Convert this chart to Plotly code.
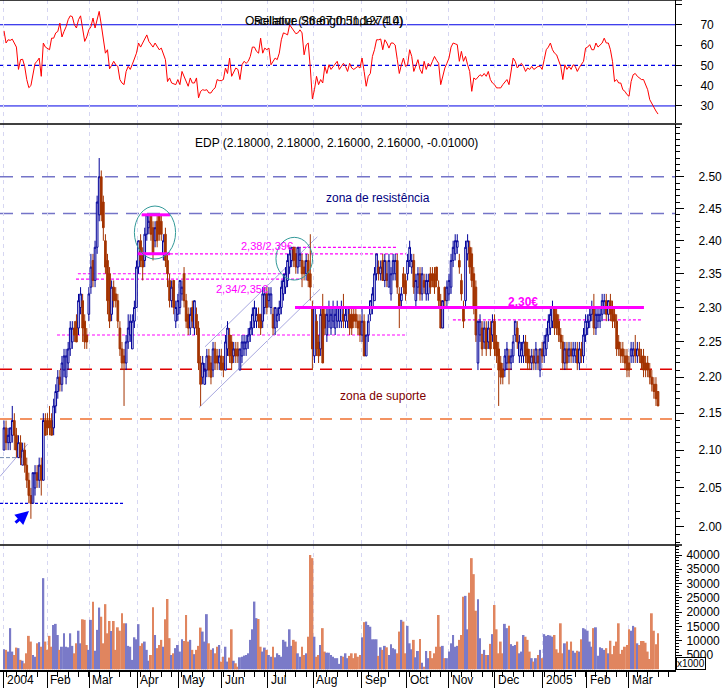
import numpy as np
import plotly.graph_objects as go

# ---------------- data ----------------
month_labels = ["2004", "Feb", "Mar", "Apr", "May", "Jun", "Jul", "Aug",
                "Sep", "Oct", "Nov", "Dec", "2005", "Feb", "Mar"]
# trading-day index where each month starts
month_pos = [0, 20.8, 41.1, 64.3, 84.5, 105.3, 127.5, 149.3,
             172.9, 194.7, 215.0, 237.2, 260.4, 281.6, 301.9]

# daily prices in euro cents
open_c = [
    210,213,211,211,212,214,212,209,211,208,210,208,206,204,203,205,207,206,208,206,214,           # Jan 04
    214,214,214,213,216,218,220,219,221,220,222,224,225,227,228,227,230,231,228,226,               # Feb
    229,233,237,234,239,244,250,246,240,237,235,229,233,232,231,227,224,223,222,225,226,224,228,   # Mar
    230,236,240,238,237,241,242,244,242,240,243,244,243,238,241,237,234,231,234,228,229,230,       # Apr
    232,235,231,229,227,230,227,229,227,222,220,219,221,223,222,221,224,223,222,223,222,           # May
    221,224,226,225,223,224,224,221,223,224,224,225,226,227,228,228,229,229,228,230,232,231,       # Jun
    230,229,227,228,229,230,232,233,234,236,237,239,238,236,237,237,236,235,237,235,230,223,       # Jul
    228,225,224,230,229,226,228,227,228,227,228,228,228,229,228,228,229,229,229,229,228,228,       # Aug
    226,228,223,226,229,230,231,235,236,235,237,234,235,233,232,235,235,237,232,231,235,234,       # Sep
    235,237,236,237,231,233,235,232,234,232,232,235,235,235,236,233,231,227,233,231,232,           # Oct
    233,237,238,239,237,234,230,231,238,239,238,235,233,222,226,227,225,227,225,227,226,228,       # Nov
    225,224,222,221,221,222,223,222,223,226,227,223,223,223,225,224,223,222,223,222,223,221,224,   # Dec
    223,224,226,227,228,230,229,228,226,225,222,224,223,224,223,223,224,222,224,223,226,           # Jan 05
    227,228,229,230,227,228,228,229,230,231,229,231,230,229,228,225,224,224,223,223,               # Feb
    222,223,223,224,223,224,223,223,222,222,221,220,219,219,218,                                   # Mar
]
high_c = [
    214,214,213,213,216,215,213,212,212,211,211,209,207,205,207,208,208,209,209,215,215,
    215,216,215,217,219,221,221,223,224,224,225,228,228,228,229,232,233,232,229,227,
    233,238,238,240,247,253,251,247,241,238,236,234,234,233,232,228,225,224,226,229,229,229,231,
    237,240,241,239,242,244,244,244,243,243,244,244,244,241,242,238,235,234,234,231,232,234,
    234,236,232,230,230,231,231,230,228,223,223,222,224,224,223,225,225,224,224,224,223,
    226,228,227,226,225,225,225,224,226,226,226,227,228,230,231,230,230,229,233,233,233,233,
    233,230,230,230,231,234,235,236,238,239,239,239,239,239,239,238,237,238,238,241,231,230,
    229,226,230,232,230,230,231,230,231,230,231,230,231,232,230,230,230,230,230,230,229,229,
    230,229,226,229,231,233,236,238,237,237,238,238,237,238,236,238,238,238,233,233,236,235,
    238,240,238,238,235,236,236,236,235,235,235,236,236,236,236,234,232,231,233,234,235,
    238,240,241,241,238,235,231,240,241,240,239,236,234,228,229,228,228,228,228,228,229,229,
    226,225,223,222,224,225,224,224,226,228,228,226,225,226,226,225,224,224,224,225,224,224,225,
    226,227,229,230,231,230,230,229,227,226,225,225,225,225,225,225,225,225,225,227,229,
    229,230,231,232,230,230,230,232,232,232,231,232,231,230,229,226,225,225,224,224,
    223,225,225,226,225,225,224,224,223,223,222,221,220,220,218,
]
low_c = [
    210,210,210,210,211,210,209,209,208,208,207,205,203,201,203,204,205,205,204,206,212,
    212,212,212,212,215,217,218,218,220,219,221,223,224,225,225,226,229,225,224,224,
    228,232,233,233,238,243,243,240,235,229,227,228,230,230,227,223,221,216,221,224,225,224,227,
    230,235,236,234,236,240,241,240,237,239,239,240,240,237,236,233,230,230,229,227,228,229,
    231,230,227,226,226,227,226,226,221,216,219,219,220,220,219,220,221,221,221,221,220,
    221,223,222,221,222,222,222,221,222,223,223,224,225,226,227,227,227,226,227,229,229,230,
    229,226,226,227,228,229,231,232,233,235,236,236,235,235,236,233,234,234,233,231,221,222,
    223,222,223,222,226,225,227,226,227,226,227,227,227,227,227,227,226,226,227,227,226,225,
    225,223,223,225,228,229,231,234,234,234,234,233,233,233,231,234,234,232,227,230,232,231,
    234,236,235,232,230,232,231,231,232,231,231,232,233,232,233,230,227,227,230,230,231,
    232,236,237,238,235,231,227,230,237,235,233,229,225,221,225,223,224,223,224,223,225,223,
    222,216,219,219,220,221,219,221,222,225,224,222,222,222,222,221,221,221,221,221,221,220,222,
    222,223,225,226,227,226,226,225,224,221,221,221,222,222,222,222,221,221,222,222,225,
    226,227,228,226,226,227,227,228,229,228,228,228,227,227,223,223,222,222,221,220,
    220,222,222,222,222,222,221,220,220,220,219,218,217,216,216,
]
close_c = [
    213,211,212,213,214,212,210,211,209,210,208,206,204,203,207,207,206,208,206,214,212,
    213,213,212,216,218,220,219,222,223,223,224,227,227,226,225,231,232,227,225,225,
    232,236,234,239,246,250,244,242,236,231,228,233,231,231,228,224,222,222,225,227,228,228,230,
    236,240,237,236,241,244,243,241,238,242,240,241,241,240,237,235,231,233,230,230,231,234,
    233,231,228,227,229,228,231,227,222,219,222,221,223,221,220,224,222,222,223,221,221,
    225,227,223,222,224,223,223,224,225,225,225,226,227,229,230,229,228,227,232,232,230,232,
    232,227,230,229,230,233,234,235,237,238,239,237,236,239,238,235,235,237,234,233,224,230,
    224,223,229,222,227,229,230,229,230,229,230,230,230,228,229,230,227,227,228,228,227,226,
    228,223,226,228,231,232,235,238,235,236,234,237,234,237,235,237,237,233,230,232,233,232,
    237,239,237,233,234,235,232,235,233,234,234,233,234,233,234,231,227,231,231,233,234,
    237,239,240,240,236,232,228,239,240,236,234,230,226,228,228,224,227,224,227,224,228,224,
    223,221,220,220,223,224,222,223,225,228,225,225,224,225,223,222,222,223,222,224,222,224,223,
    225,226,228,229,230,227,227,226,225,222,224,222,224,223,224,224,222,224,223,226,228,
    228,229,230,227,229,229,229,231,231,229,231,229,228,228,224,224,223,223,222,221,
    221,224,224,223,224,223,222,221,221,221,220,219,218,217,216,
]
# daily volume, in thousands of axis units (axis is x1000)
volume_k = [
    7.0,6.8,6.2,14.4,6.2,5.0,7.6,7.4,3.3,3.0,2.1,5.6,11.7,9.7,5.0,4.4,9.1,9.5,7.9,31.9,9.7,
    6.8,11.7,7.9,15.5,15.9,12.0,6.8,7.9,12.6,7.9,7.7,12.6,8.2,5.6,9.1,13.5,9.1,17.5,17.3,8.5,
    6.8,17.3,23.6,6.5,13.8,21.6,18.4,9.1,22.8,12.6,16.9,13.4,16.9,6.8,14.7,13.5,19.6,16.1,16.1,8.2,7.9,3.3,11.2,
    10.5,15.8,8.2,9.1,9.7,6.8,3.0,5.0,21.7,12.0,7.4,8.5,10.3,7.9,17.5,24.6,10.9,5.0,5.6,7.4,8.5,6.2,
    10.5,9.9,19.0,9.7,10.3,6.8,5.3,6.8,8.2,14.6,13.2,9.7,19.3,9.1,6.8,7.4,5.6,7.9,8.5,2.7,4.4,
    7.9,2.7,4.1,14.0,3.0,2.1,0.9,4.2,4.4,4.8,5.0,5.6,10.3,14.0,23.7,17.9,17.6,7.9,6.2,7.6,6.8,5.0,
    4.4,7.9,4.2,5.6,5.0,4.4,10.3,9.7,7.9,14.0,8.2,10.3,9.7,5.6,4.4,7.9,5.0,5.6,11.4,40.0,38.9,11.4,
    4.4,5.0,8.5,14.4,6.2,5.8,5.8,5.0,4.4,3.9,3.9,1.9,4.7,4.4,5.6,3.9,4.7,5.6,3.9,5.6,4.4,5.0,
    11.2,16.5,16.7,15.5,14.9,10.5,10.5,10.5,4.7,7.7,6.8,8.2,7.7,5.0,8.8,7.4,7.0,5.6,13.2,17.3,16.7,5.6,
    15.2,9.1,7.0,10.3,4.2,6.4,10.6,2.3,0.9,6.4,3.9,6.4,3.9,5.6,7.9,19.0,7.9,8.2,3.9,3.9,6.2,
    9.1,12.0,7.9,8.2,10.3,12.0,25.4,25.7,14.0,26.8,38.9,33.3,20.5,24.5,10.9,5.4,6.8,5.0,5.0,8.9,12.3,22.5,
    14.0,5.6,9.7,5.6,15.9,14.4,15.2,8.8,8.2,8.5,9.7,5.6,6.2,12.0,11.4,10.3,6.2,3.9,2.7,3.9,5.0,6.8,3.9,
    12.3,11.7,12.0,11.8,11.4,12.0,7.0,5.8,16.1,5.6,9.1,9.7,6.8,9.7,6.5,5.8,6.5,6.2,10.5,14.4,14.0,
    13.5,9.7,7.9,14.4,14.7,4.7,7.7,7.4,6.8,7.4,5.6,10.0,5.3,8.2,9.7,16.1,5.4,6.8,7.9,8.5,
    14.0,13.5,15.2,14.7,9.1,8.5,9.9,9.9,9.3,6.2,3.6,19.6,13.5,8.8,12.6,
]
rsi = [
    67,61,62.6,62.3,62.9,60.8,59,48,52.8,53,49.5,43,39,40,46,51,52,53.6,44.6,61,59,
    58.5,57.7,63.4,63.4,66,66.7,70.8,64,66.7,69,72.5,74.4,74,70,68.4,72.5,74.4,67.5,61.8,64,
    67.5,69,73.3,68.4,72.5,76.6,70,62,56,57.7,48.3,50,52,50.3,49.5,43,41.3,40.5,47,49.5,48,50.5,52.8,
    56,61,59,61,63.4,65,61.8,60.5,59,61,59,57.7,58.5,56,52.8,42,43.8,41.3,40.9,40.5,43,40.5,
    47,44.6,42,39.7,43.8,41.3,41.3,43.8,34,37.2,38,37.7,38,36.4,36.4,38,38.9,43,42.5,42.5,43,
    48.7,46,53.6,44.6,47,48.7,48,43,50.3,52,51,52,54.4,59,59,56.9,56,63.4,56,58.5,57.7,58.5,
    50.3,52,53.6,52.8,56,62.6,66,65.6,65,70,68.5,67.5,65.6,66,67.5,66,55.2,60,61,48.7,33.5,38,
    44.6,40.5,43,41.3,49.5,46,50.3,48,49.5,50.5,52,48,49.5,51,49.5,47,51,48.7,48,49,49.5,48.7,
    53.6,47,39.7,44.6,46,54.4,57.7,62.6,62.6,63,57.7,62.6,61,58.5,61,61,60,53,46,50.3,53.6,49.5,
    50.3,57.7,54.4,47,50,52.8,48,46,52,48,51,49.5,52,54.4,52.5,51,40.5,44.6,48.7,51,53.6,
    59,61,60.6,60.2,52,56.9,52,54.4,50.3,47,37.2,43.8,43,44,45.4,44.6,46,44.6,47,43,41.3,40.5,
    38.9,38.9,38.9,40.5,42,43,40.5,47,53.6,52,48.7,50,51,49.5,47,48.7,48,49.5,48,48.7,49.5,49.5,48,
    52.8,57.7,59,61,57.7,56,55.2,52,49.5,43,50.3,48,49.5,48,50.3,49.5,47,49,50.3,52,58.5,
    59,60.2,57.7,57.7,61,59,60,61,63.4,61,61,57.7,52,42,43,41.3,41.3,38,37.2,35.6,
    34.8,42,45.4,46,44.6,44,43,43,40.5,38,33.1,31,29,27.5,26,
]

price_ticks = [2.00, 2.05, 2.10, 2.15, 2.20, 2.25, 2.30, 2.35, 2.40, 2.45, 2.50]
rsi_ticks = [30, 40, 50, 60, 70, 80]
rsi_labels = ["30", "40", "50", "60", "70", ""]
vol_ticks = [5, 10, 15, 20, 25, 30, 35, 40]
vol_labels = ["5000", "10000", "15000", "20000", "25000", "30000", "35000", "40000"]

# annotation levels (price) drawn on the chart
resistance_levels = [2.50, 2.442]
support_red = 2.211
support_orange = 2.142
magenta_solid = [(2.30, 140.6, 309.2), (2.44, 66.5, 80.2), (2.38, 64.6, 80.2)]
magenta_dotted = [(2.38, 80.2, 194.2), (2.39, 139.6, 190.3), (2.35, 35.7, 138.2),
                  (2.342, 34.8, 144.0), (2.26, 25.6, 194.2), (2.282, 216.9, 308.7)]
blue_dotted = (2.03, -1.93, 58.0)
grey_short = (2.09, -1.93, 7.7)
channel_lines = [((94.3, 2.158), (152.7, 2.327)), ((97.1, 2.243), (151.4, 2.406)),
                 ((-1.93, 2.065), (11.4, 2.108))]
circles = [((63.0, 82.9), (2.3722, 2.4537)), ((131.4, 149.1), (2.3406, 2.4052))]

# ---------------- figure ----------------
W, H = 723, 688
PLOT_H = 670
AX_X = 675
XR = [-1.93, 324.2]


def py(y_px):
    return 1 - y_px / PLOT_H


N = len(close_c)
x = list(range(N))
o = [v / 100 for v in open_c]
h = [v / 100 for v in high_c]
lo = [v / 100 for v in low_c]
c = [v / 100 for v in close_c]
vol_colors = ["#7A7AC8" if close_c[i] >= open_c[i] else "#E0855F" for i in range(N)]

FONT = "Arial, Liberation Sans, sans-serif"
UP = "#000099"
DOWN = "#A33300"

fig = go.Figure()
fig.add_trace(go.Scatter(x=x, y=rsi, mode="lines", line=dict(color="#FF0000", width=1),
                         xaxis="x", yaxis="y", hoverinfo="skip"))
fig.add_trace(go.Candlestick(x=x, open=o, high=h, low=lo, close=c, xaxis="x2", yaxis="y2",
                             increasing=dict(line=dict(color=UP, width=1), fillcolor="white"),
                             decreasing=dict(line=dict(color=DOWN, width=1), fillcolor=DOWN),
                             whiskerwidth=0, hoverinfo="skip"))
fig.add_trace(go.Bar(x=x, y=volume_k, marker=dict(color=vol_colors, line=dict(width=0)),
                     xaxis="x3", yaxis="y3", hoverinfo="skip"))

shapes = []


def hline(level, x0, x1, color, width, dash, xref="x2", layer="below"):
    shapes.append(dict(type="line", xref=xref, yref="y2", x0=x0, x1=x1, y0=level, y1=level,
                       line=dict(color=color, width=width, dash=dash), layer=layer))


for lv in resistance_levels:
    hline(lv, 0, AX_X / W, "#7474C8", 1.5, "13px,8px", xref="paper")
hline(support_red, 0, AX_X / W, "#E00000", 1.5, "12px,8px", xref="paper")
hline(support_orange, 0, AX_X / W, "#F07030", 1.5, "12px,8px", xref="paper")
for lv, a, b in magenta_dotted:
    hline(lv, a, b, "#FF00FF", 1.2, "3px,2px")
for lv, a, b in magenta_solid:
    hline(lv, a, b, "#FF00FF", 3, "solid", layer="above")
hline(blue_dotted[0], blue_dotted[1], blue_dotted[2], "#0000E0", 1.2, "3px,2px")
hline(grey_short[0], grey_short[1], grey_short[2], "#7088B0", 1, "4px,2px")
for (x0, y0), (x1, y1) in channel_lines:
    shapes.append(dict(type="line", xref="x2", yref="y2", x0=x0, y0=y0, x1=x1, y1=y1,
                       line=dict(color="#A8A8E0", width=1), layer="below"))
for (x0, x1), (y0, y1) in circles:
    shapes.append(dict(type="circle", xref="x2", yref="y2", x0=x0, x1=x1, y0=y0, y1=y1,
                       line=dict(color="#339999", width=1), layer="above"))

# RSI reference lines
for lv, dash in [(70, "solid"), (30, "solid"), (50, "4px,3px")]:
    shapes.append(dict(type="line", xref="paper", yref="y", x0=0, x1=AX_X / W, y0=lv, y1=lv,
                       line=dict(color="#0000E6", width=1.3 if lv == 50 else 1, dash=dash),
                       layer="below"))

# panel separators
for yp in [0, 124, 545]:
    shapes.append(dict(type="line", xref="paper", yref="paper", x0=0, x1=682 / W,
                       y0=py(yp), y1=py(yp), line=dict(color="black", width=1.5)))

ann = []
ann.append(dict(text="EDP (2.18000, 2.18000, 2.16000, 2.16000, -0.01000)", xref="paper", yref="paper",
                x=336.7 / W, y=py(134), showarrow=False, font=dict(size=12, color="black")))
# the reference prints two indicator captions on top of each other
ann.append(dict(text="Oscillator (26.67,0.51,1274.0)", xref="paper", yref="paper", x=243 / W,
                y=py(12), xanchor="left", showarrow=False, font=dict(size=12, color="black")))
ann.append(dict(text="Relative Strength Index (14)", xref="paper", yref="paper", x=252 / W,
                y=py(12), xanchor="left", showarrow=False, font=dict(size=12, color="black")))


def ptext(txt, xi, p, color, size=12, bold=False):
    ann.append(dict(text=("<b>%s</b>" % txt) if bold else txt, xref="x2", yref="y2", x=xi,
                    y=np.log10(p), showarrow=False, font=dict(size=size, color=color)))


ptext("zona de resistência", 180.7, 2.4663, "#000080")
ptext("zona de suporte", 183.2, 2.1743, "#800000")
ptext("2.30€", 250.6, 2.3085, "#FF00FF", bold=True)
ptext("2,38/2,39€", 127.0, 2.3924, "#FF00FF", size=11)
ptext("2,34/2,35€", 115.2, 2.3268, "#FF00FF", size=11)

# arrow at the low
ann.append(dict(text="", xref="paper", yref="paper", x=29 / W, y=py(511), ax=-15, ay=13,
                showarrow=True, arrowhead=2, arrowsize=0.9, arrowwidth=3, arrowcolor="#0000FF"))

# x1000 box
ann.append(dict(text="x1000", xref="paper", yref="paper", x=676 / W, y=py(663), xanchor="left",
                yanchor="middle", showarrow=False, font=dict(size=10, color="black"),
                bordercolor="black", borderwidth=1, borderpad=0, bgcolor="white"))

# month labels
for lab, pos in zip(month_labels, month_pos):
    ann.append(dict(text=lab, xref="x3", yref="paper", x=pos, y=0, xanchor="left", yanchor="top",
                    xshift=1, yshift=-1, showarrow=False, font=dict(size=12, color="black")))

grid = dict(showgrid=True, gridcolor="#D6D6F2", griddash="4px,4px", gridwidth=1,
            tickmode="array", tickvals=month_pos, zeroline=False, range=XR)

fig.update_layout(
    width=W, height=H, margin=dict(l=0, r=0, t=0, b=H - PLOT_H),
    paper_bgcolor="white", plot_bgcolor="white", showlegend=False,
    font=dict(family=FONT, size=12, color="black"),
    boxgap=0.2, boxgroupgap=0, bargap=0.08,
    xaxis=dict(domain=[0, AX_X / W], anchor="y", showticklabels=False, ticks="", **grid),
    xaxis2=dict(domain=[0, AX_X / W], anchor="y2", showticklabels=False, ticks="",
                rangeslider=dict(visible=False), **grid),
    xaxis3=dict(domain=[0, AX_X / W], anchor="y3", showticklabels=False, ticks="outside",
                ticklen=18, tickcolor="black", showline=True, linecolor="black", linewidth=1.5,
                minor=dict(ticks="outside", ticklen=5, tickcolor="black", tick0=1, dtick=5,
                           showgrid=False), **grid),
    yaxis=dict(domain=[py(123), 1], anchor="x", side="right", range=[21.6, 82.2],
               tickmode="array", tickvals=rsi_ticks, ticktext=rsi_labels, ticks="outside",
               ticklen=6, tickcolor="black", showline=True, linecolor="black", showgrid=False,
               zeroline=False, ticklabelstandoff=16),
    yaxis2=dict(domain=[py(545), py(124)], anchor="x2", side="right", type="log",
                range=[np.log10(1.9767), np.log10(2.5855)], tickmode="array",
                tickvals=price_ticks, ticktext=["%.2f" % v for v in price_ticks],
                ticks="outside", ticklen=8, tickcolor="black", showline=True, linecolor="black",
                showgrid=False, zeroline=False, ticklabelstandoff=12,
                minor=dict(tickmode="array", tickvals=[round(1.98 + 0.01 * k, 2) for k in range(61)],
                           ticks="outside", ticklen=4, tickcolor="black", showgrid=False)),
    yaxis3=dict(domain=[0, py(545)], anchor="x3", side="right", range=[-0.245, 43.5],
                tickmode="array", tickvals=vol_ticks, ticktext=vol_labels, ticks="outside",
                ticklen=6, tickcolor="black", showline=True, linecolor="black", showgrid=False,
                zeroline=False, ticklabelstandoff=2,
                minor=dict(ticks="outside", ticklen=3, tickcolor="black", dtick=1, tick0=0,
                           showgrid=False)),
    shapes=shapes, annotations=ann,
)

fig.write_html("out.html", config={"displayModeBar": False},
               post_script="document.body.style.margin='0';")
